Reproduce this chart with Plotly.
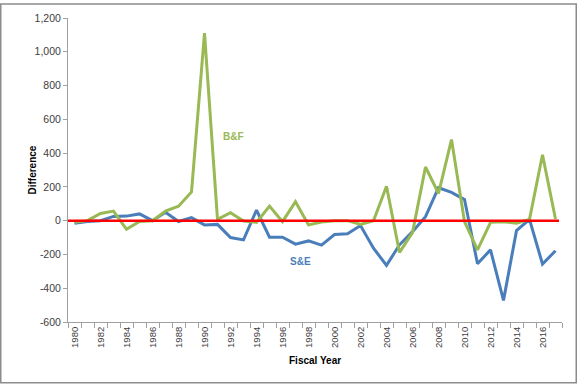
import plotly.graph_objects as go

years = list(range(1980, 2018))
se_values = [-16, -5, 0, 25, 27, 40, 0, 50, -5, 18,
             -25, -22, -100, -114, 63, -98, -98, -139, -120, -145,
             -82, -78, -29, -163, -265, -143, -65, 24, 195, 167,
             125, -255, -173, -472, -59, 8, -257, -178]
bf_values = [-10, 0, 43, 57, -51, -5, 0, 57, 86, 170,
             1110, 8, 47, -2, -10, 86, -6, 112, -25, -8,
             0, 0, -22, 0, 204, -188, -71, 318, 161, 480,
             -6, -173, -10, -6, -15, 8, 390, 10]
tick_years = list(range(1980, 2017, 2))
y_ticks = [-600, -400, -200, 0, 200, 400, 600, 800, 1000, 1200]
y_tick_text = ["-600", "-400", "-200", "0", "200", "400", "600", "800", "1,000", "1,200"]

L, R, T, B = 68, 15, 15, 62
W, H = 577, 384
PW, PH = W - L - R, H - T - B

fig = go.Figure()
fig.add_trace(go.Scatter(x=years, y=se_values, mode="lines", name="S&E",
                         line=dict(color="#4A7EBB", width=3)))
fig.add_trace(go.Scatter(x=years, y=bf_values, mode="lines", name="B&F",
                         line=dict(color="#98B954", width=3)))

fig.add_shape(type="line", xref="paper", yref="y", x0=0, x1=(559 - L) / PW, y0=0, y1=0,
              line=dict(color="#FF0000", width=2.5), layer="above")
# chart frame
fig.add_shape(type="rect", xref="paper", yref="paper",
              x0=(0.75 - L) / PW, x1=(576.25 - L) / PW,
              y0=-(383.25 - (H - B)) / PH, y1=1 + (T - 0.75) / PH,
              line=dict(color="#8C8C8C", width=1.5), layer="below")

font = "Liberation Sans, Arial, sans-serif"
fig.add_annotation(x=1992.2, y=500, text="<b>B&F</b>", showarrow=False,
                   font=dict(family=font, size=10, color="#98B954"))
fig.add_annotation(x=1997.35, y=-241, text="<b>S&E</b>", showarrow=False,
                   font=dict(family=font, size=10, color="#4A7EBB"))
fig.add_annotation(xref="paper", yref="paper", x=(24 - L) / PW, y=0.5,
                   text="<b>Difference</b>", textangle=-90, showarrow=False,
                   font=dict(family=font, size=10, color="#000000"))
fig.add_annotation(xref="paper", yref="paper", x=0.5, y=-(361 - (H - B)) / PH,
                   text="<b>Fiscal Year</b>", showarrow=False, yanchor="middle",
                   font=dict(family=font, size=10, color="#000000"))

fig.update_layout(
    width=W, height=H,
    margin=dict(l=L, r=R, t=T, b=B),
    paper_bgcolor="white", plot_bgcolor="white",
    showlegend=False,
    font=dict(family=font, color="#404040"),
)
fig.update_xaxes(
    range=[1979.5, 2017.5], tickmode="array", tickvals=tick_years,
    ticktext=[str(y) for y in tick_years], tickangle=-90,
    ticks="outside", ticklen=0, tickcolor="#A0A0A0",
    minor=dict(tickmode="linear", tick0=1979.5, dtick=1, ticks="outside",
               ticklen=5, tickcolor="#A0A0A0", showgrid=False),
    showline=True, linecolor="#A0A0A0", linewidth=1,
    showgrid=False, zeroline=False,
    tickfont=dict(size=9.5, color="#404040"),
)
fig.update_yaxes(
    range=[-600, 1200], tickmode="array", tickvals=y_ticks, ticktext=y_tick_text,
    ticks="outside", ticklen=4, tickcolor="#A0A0A0",
    showline=True, linecolor="#A0A0A0", linewidth=1,
    showgrid=False, zeroline=False,
    tickfont=dict(size=10.5, color="#404040"),
)

fig.write_html("out.html", config={"displayModeBar": False},
               post_script="document.body.style.margin='0px';document.body.style.overflow='hidden';")
